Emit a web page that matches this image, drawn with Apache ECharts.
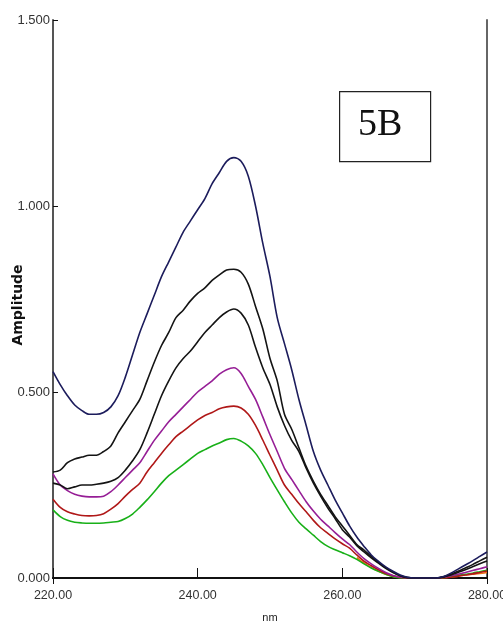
<!DOCTYPE html>
<html>
<head>
<meta charset="utf-8">
<script src="https://cdn.jsdelivr.net/npm/echarts@6/dist/echarts.min.js"></script>
<style>
  html, body { margin: 0; padding: 0; background: #fff; }
  #chart { width: 503px; height: 623px; }
</style>
</head>
<body>
<div id="chart"></div>
<script>
// wavelength grid, 1 nm steps 220..280
var wavelengths = [];
for (var w = 220; w <= 280; w++) wavelengths.push(w);

var xTicks = [220, 240, 260, 280];
var yTicks = [0, 0.5, 1.0, 1.5];

// spectra (amplitude per nm)
var navyData = [0.555, 0.52, 0.49, 0.465, 0.45, 0.44, 0.44, 0.445, 0.46, 0.49,
  0.54, 0.60, 0.66, 0.71, 0.76, 0.81, 0.85, 0.89, 0.93, 0.96,
  0.99, 1.02, 1.06, 1.09, 1.12, 1.13, 1.12, 1.08, 1.00, 0.90,
  0.81, 0.70, 0.63, 0.56, 0.48, 0.41, 0.34, 0.29, 0.25, 0.21,
  0.175, 0.14, 0.11, 0.085, 0.062, 0.045, 0.03, 0.018, 0.008, 0.002,
  0, 0, 0, 0, 0.004, 0.013, 0.024, 0.035, 0.046, 0.058, 0.07];
var black1Data = [0.285, 0.29, 0.31, 0.32, 0.325, 0.33, 0.33, 0.34, 0.355, 0.39,
  0.42, 0.45, 0.48, 0.53, 0.58, 0.625, 0.66, 0.70, 0.72, 0.745,
  0.765, 0.78, 0.80, 0.815, 0.828, 0.83, 0.822, 0.79, 0.73, 0.67,
  0.59, 0.53, 0.44, 0.40, 0.35, 0.30, 0.26, 0.225, 0.195, 0.165,
  0.14, 0.115, 0.09, 0.075, 0.058, 0.042, 0.028, 0.016, 0.006, 0.001,
  0, 0, 0, 0, 0.003, 0.01, 0.018, 0.027, 0.036, 0.046, 0.056];
var black2Data = [0.255, 0.25, 0.24, 0.245, 0.25, 0.25, 0.252, 0.255, 0.26, 0.27,
  0.29, 0.315, 0.345, 0.39, 0.44, 0.49, 0.53, 0.565, 0.59, 0.61,
  0.635, 0.66, 0.68, 0.70, 0.715, 0.723, 0.712, 0.68, 0.62, 0.565,
  0.52, 0.46, 0.41, 0.37, 0.34, 0.295, 0.255, 0.22, 0.188, 0.16,
  0.13, 0.11, 0.087, 0.07, 0.054, 0.04, 0.026, 0.015, 0.006, 0.001,
  0, 0, 0, 0, 0.003, 0.008, 0.015, 0.022, 0.03, 0.038, 0.046];
var purpleData = [0.28, 0.25, 0.235, 0.225, 0.22, 0.218, 0.218, 0.22, 0.232, 0.25,
  0.27, 0.29, 0.31, 0.34, 0.37, 0.395, 0.42, 0.44, 0.46, 0.48,
  0.50, 0.515, 0.53, 0.548, 0.56, 0.565, 0.55, 0.515, 0.48, 0.433,
  0.385, 0.34, 0.295, 0.265, 0.235, 0.205, 0.18, 0.158, 0.14, 0.122,
  0.105, 0.09, 0.07, 0.052, 0.038, 0.026, 0.015, 0.007, 0.002, 0,
  0, 0, 0, 0, 0.002, 0.006, 0.01, 0.015, 0.02, 0.025, 0.03];
var redData = [0.212, 0.19, 0.178, 0.172, 0.168, 0.167, 0.168, 0.173, 0.185, 0.20,
  0.22, 0.238, 0.255, 0.285, 0.31, 0.335, 0.358, 0.38, 0.395, 0.41,
  0.425, 0.437, 0.445, 0.455, 0.46, 0.462, 0.457, 0.44, 0.41, 0.371,
  0.33, 0.29, 0.25, 0.225, 0.20, 0.178, 0.155, 0.135, 0.12, 0.105,
  0.092, 0.08, 0.062, 0.045, 0.033, 0.022, 0.012, 0.006, 0.002, 0,
  0, 0, 0, 0, 0, 0.002, 0.005, 0.008, 0.011, 0.015, 0.019];
var orangeData = [null, null, null, null, null, null, null, null, null, null,
  null, null, null, null, null, null, null, null, null, null,
  null, null, null, null, null, null, null, null, null, null,
  null, null, null, null, null, null, null, null, null, null,
  null, null, 0.055, 0.04, 0.028, 0.018, 0.01, 0.004, 0.001, 0,
  0, 0, 0, 0, 0.001, 0.003, 0.005, 0.008, 0.01, 0.012, 0.015];
var greenData = [0.183, 0.165, 0.155, 0.15, 0.148, 0.147, 0.147, 0.148, 0.15, 0.152,
  0.16, 0.172, 0.19, 0.21, 0.232, 0.255, 0.275, 0.29, 0.305, 0.32,
  0.335, 0.345, 0.355, 0.363, 0.372, 0.375, 0.368, 0.355, 0.335, 0.305,
  0.27, 0.237, 0.205, 0.175, 0.15, 0.132, 0.115, 0.098, 0.085, 0.076,
  0.068, 0.06, 0.05, 0.038, 0.027, 0.018, 0.01, 0.004, 0, 0,
  0, 0, 0, 0, 0, 0.003, 0.007, 0.01, 0.013, 0.017, 0.021];

var seriesList = [
  { name: 'orange', color: '#f07010', data: orangeData },
  { name: 'green', color: '#18b018', data: greenData },
  { name: 'red', color: '#b01818', data: redData },
  { name: 'purple', color: '#961e96', data: purpleData },
  { name: 'black2', color: '#141414', data: black2Data },
  { name: 'black1', color: '#141414', data: black1Data },
  { name: 'navy', color: '#1c1c5c', data: navyData }
];

var labelFont = "'Liberation Sans', Arial, sans-serif";

var chart = echarts.init(document.getElementById('chart'));

chart.setOption({
  animation: false,
  backgroundColor: '#fff',
  grid: { left: 53, right: 16, top: 20, bottom: 45, outerBoundsMode: 'none', containLabel: false },
  xAxis: [{
    type: 'value',
    min: xTicks[0],
    max: xTicks[xTicks.length - 1],
    interval: 20,
    name: 'nm',
    nameLocation: 'middle',
    nameGap: 34,
    nameMoveOverlap: false,
    nameTextStyle: { fontFamily: labelFont, fontSize: 11, color: '#222' },
    axisLine: { onZero: false, lineStyle: { color: '#111', width: 2 } },
    axisTick: { inside: true, length: 10, lineStyle: { color: '#111', width: 1 } },
    axisLabel: {
      fontFamily: labelFont, fontSize: 12.5, color: '#333', margin: 11,
      formatter: function (v) { return v.toFixed(2); }
    },
    splitLine: { show: false }
  }, {
    type: 'value',
    position: 'top',
    min: xTicks[0],
    max: xTicks[xTicks.length - 1],
    interval: 60,
    axisLine: { lineStyle: { color: '#111', width: 2 } },
    axisTick: { inside: true, length: 6, lineStyle: { color: '#111' } },
    axisLabel: { show: false },
    splitLine: { show: false }
  }],
  yAxis: [{
    type: 'value',
    min: yTicks[0],
    max: yTicks[yTicks.length - 1],
    interval: 0.5,
    name: 'Amplitude',
    nameLocation: 'middle',
    nameGap: 28,
    nameMoveOverlap: false,
    nameTextStyle: {
      fontFamily: "'DejaVu Sans', sans-serif", fontSize: 14, fontWeight: 'bold', color: '#111',
      padding: [0, 12, 0, 0]
    },
    axisLine: { show: true, lineStyle: { color: '#555', width: 2 } },
    axisTick: { show: true, inside: true, length: 5, lineStyle: { color: '#111' } },
    axisLabel: {
      fontFamily: labelFont, fontSize: 13, color: '#333', margin: 3,
      formatter: function (v) { return v.toFixed(3); }
    },
    splitLine: { show: false }
  }, {
    type: 'value',
    position: 'right',
    min: 0,
    max: 1.5,
    interval: 1.5,
    axisLine: { show: true, lineStyle: { color: '#666', width: 2 } },
    axisTick: { show: false },
    axisLabel: { show: false },
    splitLine: { show: false }
  }],
  series: seriesList.map(function (s) {
    return {
      name: s.name,
      type: 'line',
      showSymbol: false,
      smooth: 0.3,
      connectNulls: false,
      lineStyle: { color: s.color, width: 1.6 },
      data: wavelengths.map(function (w, i) { return [w, s.data[i]]; })
    };
  }),
  graphic: [{
    type: 'rect',
    left: 339,
    top: 91,
    shape: { width: 91, height: 70 },
    style: { fill: '#fff', stroke: '#222', lineWidth: 1.2 }
  }, {
    type: 'text',
    left: 358,
    top: 106,
    style: { text: '5B', font: "38px 'Liberation Serif', 'Times New Roman', serif", fill: '#111' }
  }]
});
</script>
</body>
</html>
